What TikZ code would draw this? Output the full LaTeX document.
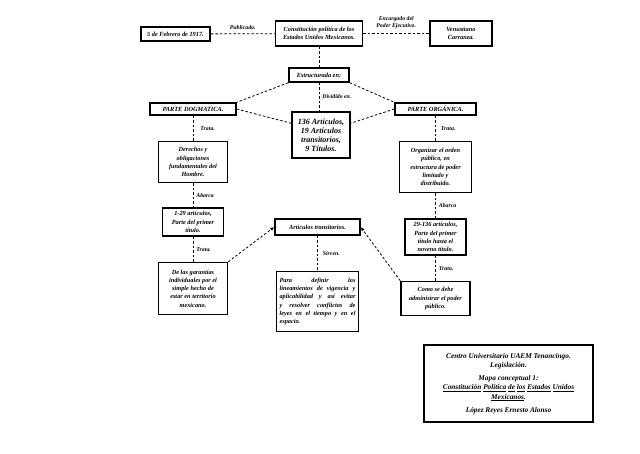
\documentclass[tikz,border=0pt]{standalone}
\usepackage{fontspec}
\setmainfont{Liberation Serif}
\usetikzlibrary{arrows.meta,positioning}

\begin{document}
\begin{tikzpicture}[
x=1pt, y=-1pt,
node distance=25pt,
box/.style={draw, line width=1.5pt, fill=white, align=center, inner sep=1.5pt, font=\fontsize{6.3}{8.2}\selectfont\bfseries\itshape},
tag/.style={font=\fontsize{5.8}{7}\selectfont\bfseries\itshape, align=center, inner sep=1pt},
link/.style={line width=0.8pt, dash pattern=on 2.5pt off 2pt},
arrow/.style={link, -{Latex[length=4pt,width=3.5pt]}}
]
\useasboundingbox (0,0) rectangle (640,453);
\node[box, minimum width=69pt, minimum height=14pt] (fecha) at (175.5,34) {5 de Febrero de 1917.};
\node[box, minimum width=87pt, minimum height=25pt] (const) at (319,33.5) {Constitución política de los\\Estados Unidos Mexicanos.};
\node[box, minimum width=62pt, minimum height=25pt] (venus) at (461,33.5) {Venustiano\\Carranza.};
\node[box, minimum width=60pt, minimum height=14pt] (estr) at (319,75) {Estructurada en:};
\node[box, minimum width=86pt, minimum height=12pt] (dogm) at (193,109) {PARTE DOGMATICA.};
\node[box, minimum width=81pt, minimum height=12pt] (organ) at (435.5,109) {PARTE ORGÁNICA.};
\node[box, minimum width=58pt, minimum height=46pt, font=\fontsize{8}{9}\selectfont\bfseries\itshape] (arts) at (321,135) {136 Artículos,\\19 Artículos\\transitorios,\\9 Títulos.};
% parte dogmatica
\node[box, below=of dogm, minimum width=69pt, minimum height=41pt] (derech) {Derechos y\\obligaciones\\fundamentales del\\Hombre.};
\node[box, below=24pt of derech, minimum width=61pt, minimum height=28pt] (art129) {1-29 artículos,\\Parte del primer\\título.};
\node[box, below=of art129, minimum width=69pt, minimum height=52pt] (garant) {De las garantías\\individuales por el\\simple hecho de\\estar en territorio\\mexicano.};
% parte organica
\node[box, below=of organ, minimum width=72pt, minimum height=51pt] (orden) {Organizar el orden\\público, en\\estructura de poder\\limitado y\\distribuido.};
\node[box, below=of orden, minimum width=61pt, minimum height=36pt] (art29) {29-136 artículos,\\Parte del primer\\título hasta el\\noveno título.};
\node[box, below=of art29, minimum width=69pt, minimum height=34pt] (admin) {Como se debe\\administrar el poder\\público.};
% transitorios
\node[box, minimum width=85pt, minimum height=16pt] (trans) at (317.5,227) {Artículos transitorios.};
\node[box, below=35pt of trans, text width=76pt, align=justify, minimum height=60pt, inner sep=3pt] (sirve) {Para definir los\linebreak lineamientos de vigencia y\linebreak aplicabilidad y así evitar\linebreak y resolver conflictos de\linebreak leyes en el tiempo y en el\linebreak espacio.};
\node[box, minimum width=169pt, minimum height=77pt, font=\fontsize{7.3}{9.3}\selectfont\bfseries\itshape] (info) at (508.5,383.5) {Centro Universitario UAEM Tenancingo.\\Legislación.\\[4pt]Mapa conceptual 1:\\\underline{Constitución} \underline{Política} \underline{de} \underline{los} \underline{Estados} \underline{Unidos}\\\underline{Mexicanos}.\\[4pt]López Reyes Ernesto Alonso};

\draw[link] (fecha) -- (const) node[tag, midway, above=3pt] {Publicada.};
\draw[link] (const) -- (venus) node[tag, midway, above=3pt] {Encargado del\\Poder Ejecutivo.};
\draw[link] (const) -- (estr);
\draw[link] (estr.south west) -- (dogm.north east);
\draw[link] (estr.south east) -- (organ.north west);
\draw[link] (estr) -- (estr |- arts.north) node[tag, midway, right=2pt] {Dividido en.};
\draw[link] (dogm.east) -- ([yshift=-12pt]arts.north west);
\draw[link] (organ.west) -- ([yshift=-12pt]arts.north east);
\draw[link] (dogm) -- (derech) node[tag, midway, right=6pt] {Trata.};
\draw[link] (derech) -- (art129) node[tag, midway, right=2pt] {Abarca};
\draw[link] (art129) -- (garant) node[tag, midway, right=2pt] {Trata.};
\draw[link] (organ) -- (orden) node[tag, midway, right=4pt] {Trata.};
\draw[link] (orden) -- (art29) node[tag, midway, right=2pt] {Abarca};
\draw[link] (art29) -- (admin) node[tag, midway, right=2pt] {Trata.};
\draw[link] (trans) -- (sirve) node[tag, midway, right=4pt] {Sirven.};
\draw[arrow] (garant.north east) -- (trans.west);
\draw[arrow] (admin.north west) -- (trans.east);
\end{tikzpicture}
\end{document}
